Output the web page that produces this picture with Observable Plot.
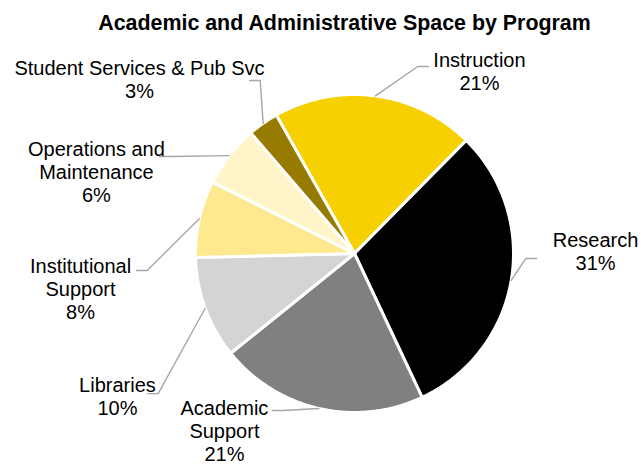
<!DOCTYPE html>
<html>
<head>
<meta charset="utf-8">
<script src="https://cdn.jsdelivr.net/npm/d3@7"></script>
<script src="https://cdn.jsdelivr.net/npm/@observablehq/plot@0.6"></script>
<style>
  html, body { margin: 0; padding: 0; background: #fff; }
  #chart svg { display: block; }
</style>
</head>
<body>
<div id="chart"></div>
<script>
// ---- data ----
const title = "Academic and Administrative Space by Program";
const categories = ["Instruction", "Research", "Academic Support", "Libraries",
  "Institutional Support", "Operations and Maintenance", "Student Services & Pub Svc"];
const values = [20.6, 30.6, 21.2, 10.4, 7.8, 6.3, 3.1];

// ---- style / layout ----
const colors = ["#F6D000", "#000000", "#808080", "#D4D4D4", "#FFE98F", "#FFF5C9", "#967B00"];
const labelText = ["Instruction", "Research", "Academic\nSupport", "Libraries",
  "Institutional\nSupport", "Operations and\nMaintenance", "Student Services & Pub Svc"];
// label block centres, in pie-radius units
const labelPos = [[0.786, 1.148], [1.516, 0.016], [-0.818, -1.113], [-1.491, -0.896],
  [-1.723, -0.220], [-1.623, 0.516], [-1.352, 1.097]];
// leader line end points near the labels, in pie-radius units
const leaderEnd = [[0.465, 1.176], [1.145, -0.031], [-0.516, -0.987], [-1.302, -0.881],
  [-1.371, -0.107], [-1.226, 0.610], [-0.660, 1.088]];
const startDeg = -29.5;

const total = d3.sum(values);
const start = startDeg * Math.PI / 180;
const arcs = d3.pie().sort(null).value(d => d).startAngle(start).endAngle(start + 2 * Math.PI)(values);

// slice outlines
const slicePts = [];
arcs.forEach((a, i) => {
  const k = categories[i];
  slicePts.push({x: 0, y: 0, k});
  const n = Math.max(2, Math.ceil((a.endAngle - a.startAngle) * 180 / Math.PI));
  for (let j = 0; j <= n; j++) {
    const t = a.startAngle + (a.endAngle - a.startAngle) * j / n;
    slicePts.push({x: Math.sin(t), y: Math.cos(t), k});
  }
});

// leader lines: slice mid-angle on the rim -> elbow -> label
const leaderPts = [];
arcs.forEach((a, i) => {
  const k = categories[i];
  const m = (a.startAngle + a.endAngle) / 2;
  const [ex, ey] = leaderEnd[i];
  const side = ex < 0 ? 1 : -1;
  leaderPts.push({x: Math.sin(m), y: Math.cos(m), k});
  leaderPts.push({x: ex + side * 0.067, y: ey, k});
  leaderPts.push({x: ex, y: ey, k});
});

const labels = categories.map((c, i) => ({
  x: labelPos[i][0], y: labelPos[i][1],
  text: labelText[i] + "\n" + Math.round(values[i] / total * 100) + "%"
}));

const chart = Plot.plot({
  width: 641,
  height: 464,
  margin: 0,
  style: {fontFamily: "'Liberation Sans', Arial, sans-serif", background: "#fff", color: "#000"},
  x: {domain: [-1, 1], range: [195, 513], axis: null},
  y: {domain: [-1, 1], range: [412, 94], axis: null},
  color: {domain: categories, range: colors},
  marks: [
    Plot.line(slicePts, {x: "x", y: "y", z: "k", fill: "k", stroke: "white", strokeWidth: 3,
      curve: "linear-closed", strokeLinejoin: "round"}),
    Plot.line(leaderPts, {x: "x", y: "y", z: "k", stroke: "#A6A6A6", strokeWidth: 1.4,
      curve: "linear", strokeLinejoin: "miter"}),
    Plot.text(labels, {x: "x", y: "y", text: "text", fontSize: 20, lineHeight: 1.17,
      fill: "#000", textAnchor: "middle", lineAnchor: "middle"}),
    Plot.text([title], {frameAnchor: "top", text: d => d, fontSize: 21.4, fontWeight: "bold",
      fill: "#000", dx: 23.5, dy: 14, lineAnchor: "top"})
  ]
});
document.getElementById("chart").appendChild(chart);
</script>
</body>
</html>
